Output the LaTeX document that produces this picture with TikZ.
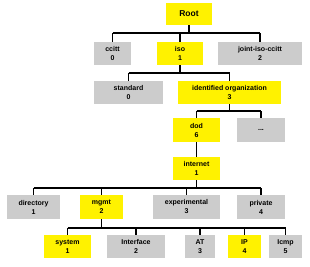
\documentclass[tikz,border=0pt]{standalone}
\usepackage{fontspec}
\setsansfont{Liberation Sans}
\usetikzlibrary{positioning}

\begin{document}
\begin{tikzpicture}[
	x=1pt, y=-1pt,
	font=\fontsize{7}{9}\selectfont\sffamily\bfseries,
	oid/.style={
		inner sep=0pt,
		minimum height=23pt,
		align=center,
	},
	hot/.style={oid, fill=yellow},
	cold/.style={oid, fill=black!20},
	link/.style={line width=1.6pt},
]
\useasboundingbox (0,0) rectangle (310,267);

% --- root and first level ---
\node[hot, minimum width=46pt, minimum height=22pt, font=\fontsize{8.5}{10}\selectfont\sffamily\bfseries] (root) at (189,14) {Root};
\node[cold, minimum width=37pt] (ccitt) at (112.5,53.5) {ccitt\\0};
\node[hot, minimum width=46pt] (iso) at (180,53.5) {iso\\1};
\node[cold, minimum width=84pt] (jointiso) at (260,53.5) {joint-iso-ccitt\\2};

% --- under iso ---
\node[cold, minimum width=69pt] (standard) at (128.5,92.5) {standard\\0};
\node[hot, minimum width=103pt] (idorg) at (229.5,92.5) {identified organization\\3};

% --- under identified organization ---
\node[hot, minimum width=47pt, minimum height=24pt] (dod) at (196.5,130) {dod\\6};
\node[cold, minimum width=48pt, minimum height=24pt] (more) at (261,130) {...};
\node[hot, minimum width=47pt] (internet) at (196.5,168.5) {internet\\1};

% --- under internet ---
\node[cold, minimum width=53pt, minimum height=24pt] (directory) at (33.5,207) {directory\\1};
\node[hot, minimum width=43pt, minimum height=24pt] (mgmt) at (101.5,207) {mgmt\\2};
\node[cold, minimum width=67pt, minimum height=24pt] (experimental) at (186.5,207) {experimental\\3};
\node[cold, minimum width=48pt, minimum height=24pt] (private) at (261,207) {private\\4};

% --- under mgmt ---
\node[hot, minimum width=47pt] (system) at (67.5,246.5) {system\\1};
\node[cold, minimum width=58pt] (interface) at (136,246.5) {Interface\\2};
\node[cold, minimum width=30pt] (at) at (200,246.5) {AT\\3};
\node[hot, minimum width=33pt] (ip) at (244.5,246.5) {IP\\4};
\node[cold, minimum width=33pt] (icmp) at (285.5,246.5) {Icmp\\5};

% --- tree links ---
\draw[link] (root.south) -- ++(0,8) coordinate (busA);
\draw[link] (busA -| ccitt.north) -- (busA -| jointiso.north);
\foreach \c in {ccitt,iso,jointiso}
	\draw[link] (busA -| \c.north) -- (\c.north);

\draw[link] (iso.south) -- ++(0,8) coordinate (busB);
\draw[link] (busB -| standard.north) -- (busB -| idorg.north);
\foreach \c in {standard,idorg}
	\draw[link] (busB -| \c.north) -- (\c.north);

\draw[link] (idorg.south) -- ++(0,7) coordinate (busC);
\draw[link] (busC -| dod.north) -- (busC -| more.north);
\foreach \c in {dod,more}
	\draw[link] (busC -| \c.north) -- (\c.north);

\draw[link] (dod.south) -- (internet.north);

\draw[link] (internet.south) -- ++(0,8) coordinate (busD);
\draw[link] (busD -| directory.north) -- (busD -| private.north);
\foreach \c in {directory,mgmt,experimental,private}
	\draw[link] (busD -| \c.north) -- (\c.north);

\draw[link] (mgmt.south) -- ++(0,9) coordinate (busE);
\draw[link] (busE -| system.north) -- (busE -| icmp.north);
\foreach \c in {system,interface,at,ip,icmp}
	\draw[link] (busE -| \c.north) -- (\c.north);

\end{tikzpicture}
\end{document}
